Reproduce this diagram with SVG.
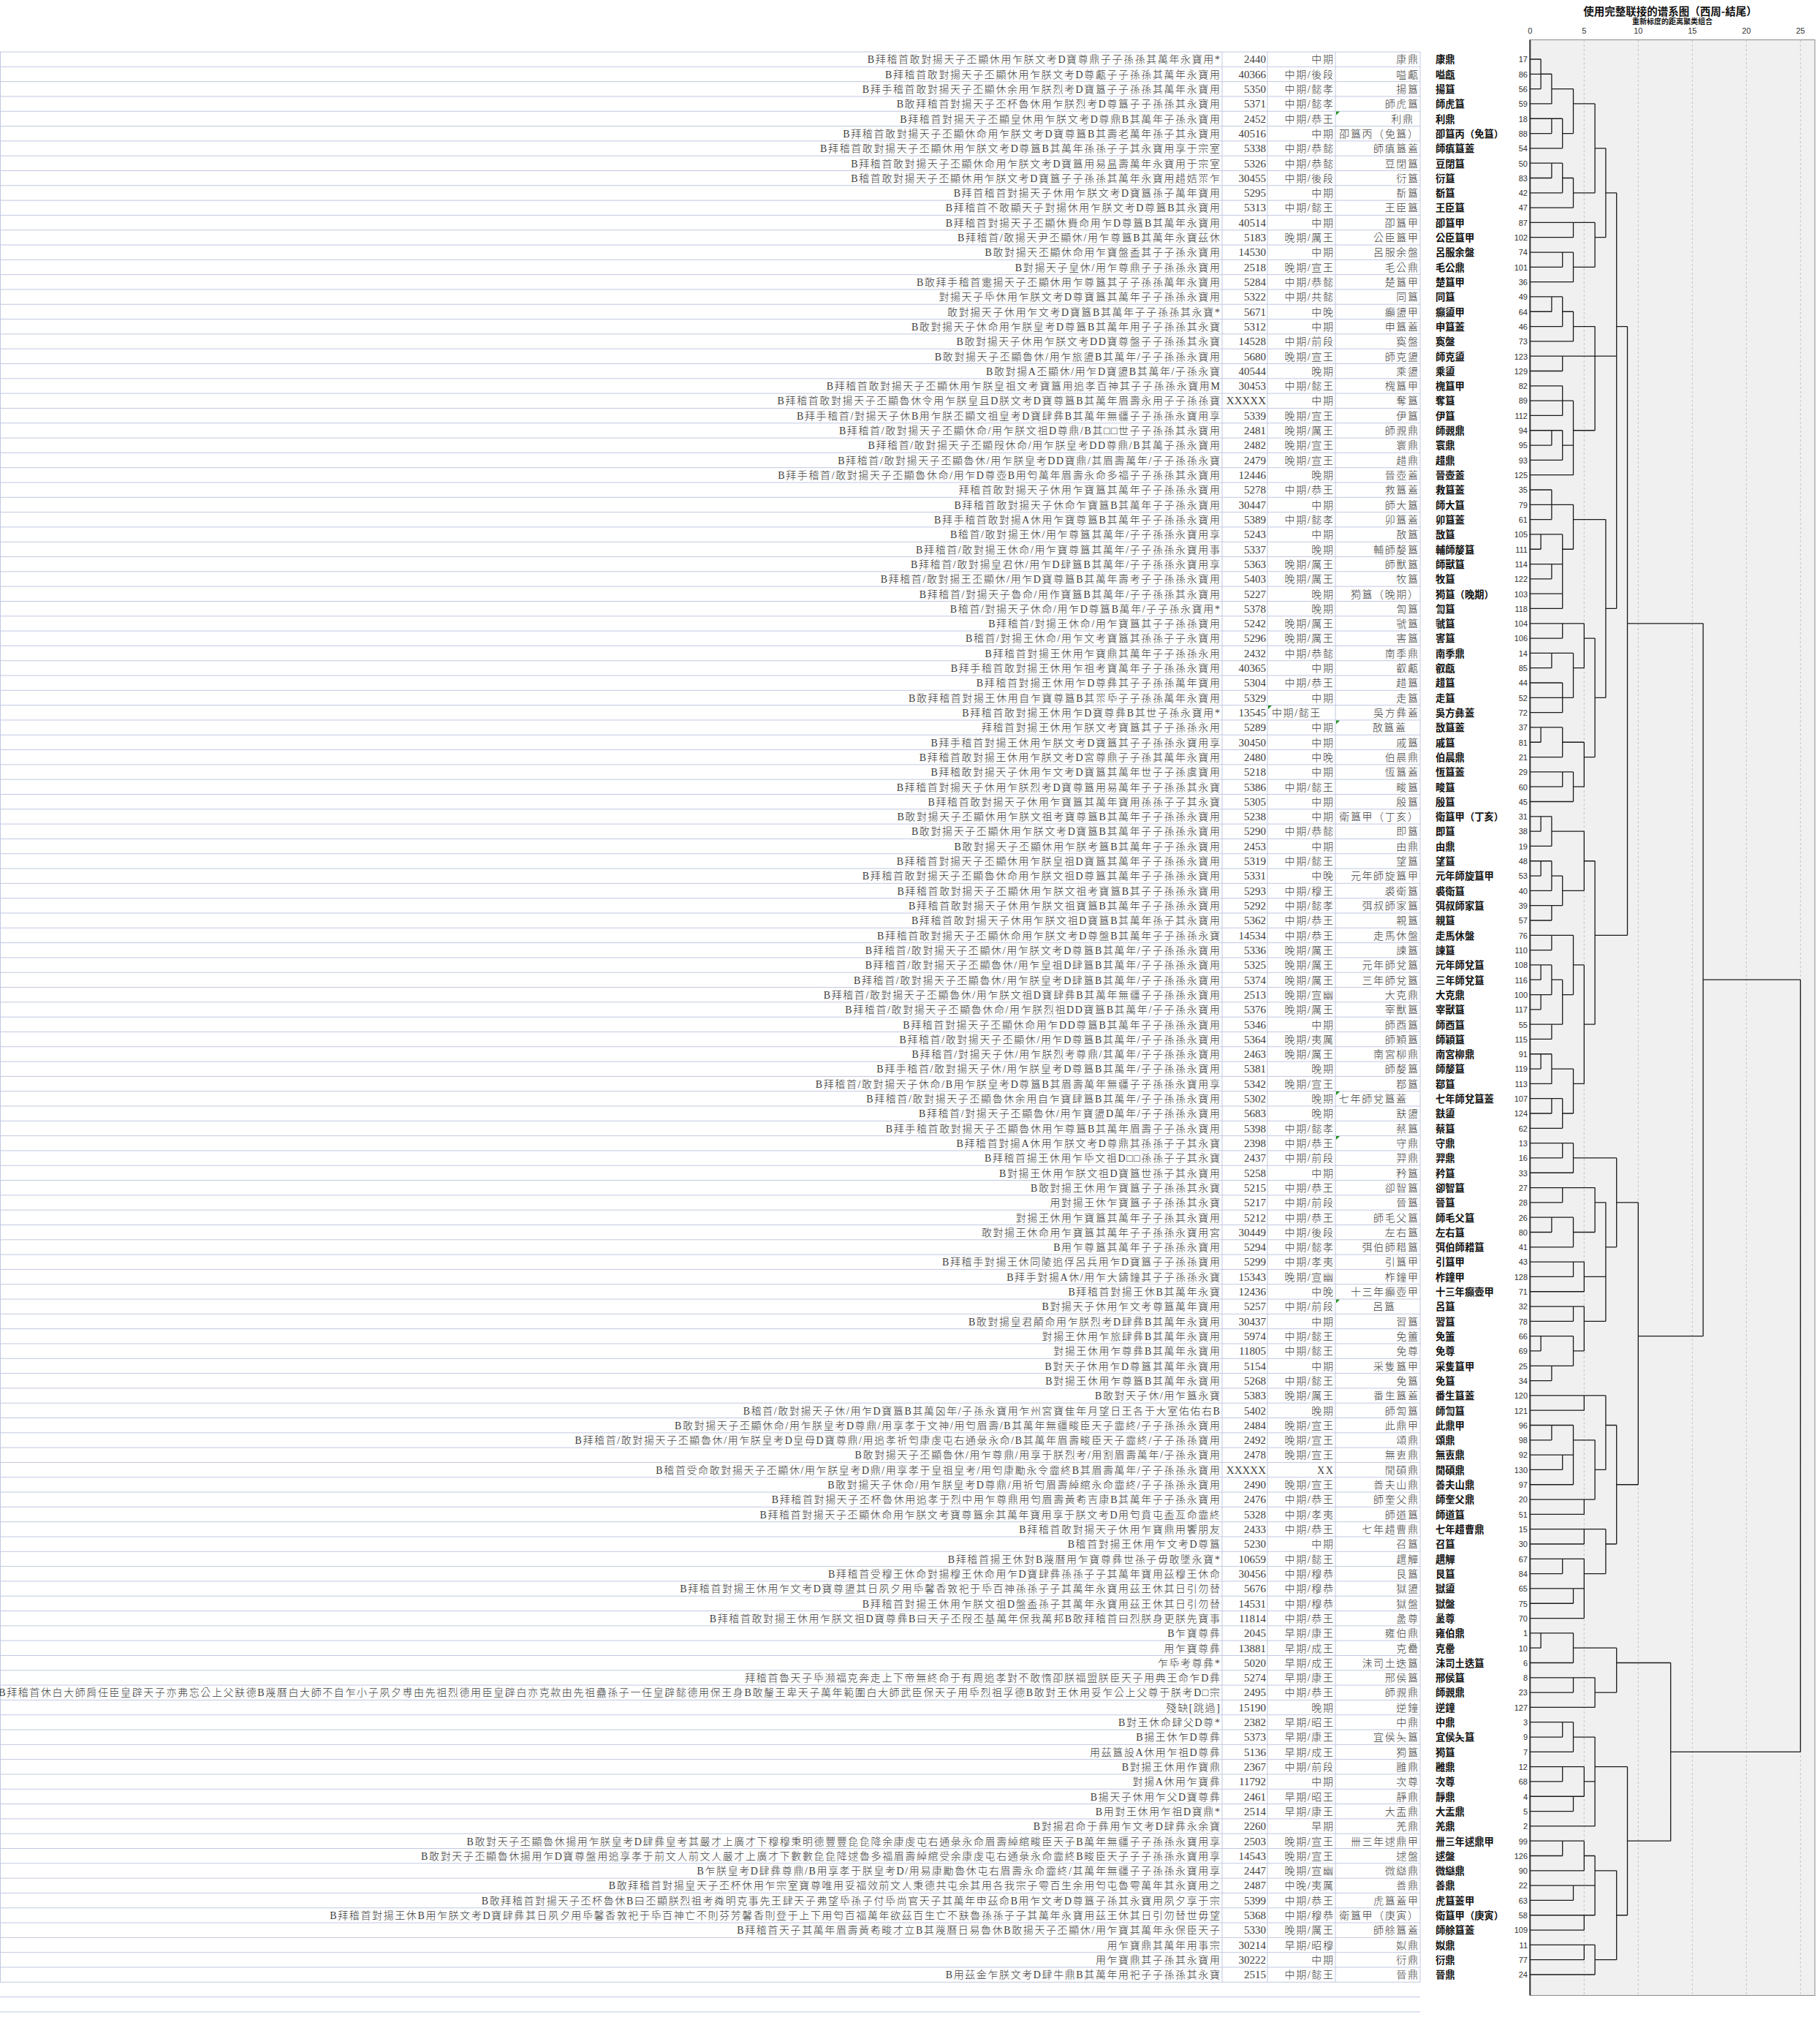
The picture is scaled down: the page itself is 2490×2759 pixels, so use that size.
<svg xmlns="http://www.w3.org/2000/svg" width="2490" height="2759" viewBox="0 0 2490 2759">
<style>
.t{font-family:"Liberation Serif","Noto Sans CJK TC",serif;font-size:14px;font-weight:300;letter-spacing:1.6px;fill:#404040;text-anchor:end}
.s{text-anchor:start}
.n{font-family:"Liberation Serif",serif;font-size:15px;fill:#404040;text-anchor:end}
.lb{font-family:"Noto Sans CJK TC",sans-serif;font-size:13.3px;font-weight:700;fill:#111}
.ln{font-family:"Liberation Sans",sans-serif;font-size:11px;fill:#333;text-anchor:end}
.ax{font-family:"Liberation Sans",sans-serif;font-size:11px;fill:#333;text-anchor:middle}
.ti{font-family:"Noto Sans CJK SC",sans-serif;font-weight:700;fill:#111;text-anchor:middle}
.gr{stroke:#c2c8e2;stroke-width:1;fill:none}
.dg{fill:none;stroke:#1a1a1a;stroke-width:1.3;vector-effect:non-scaling-stroke}
.tri{fill:#1f8f1f}
</style>
<rect width="2490" height="2759" fill="#fff"/>
<g id="table-grid">
<path class="gr" d="M0 71h1943m-1943 20.31h1943m-1943 20.31h1943m-1943 20.31h1943m-1943 20.31h1943m-1943 20.31h1943m-1943 20.31h1943m-1943 20.31h1943m-1943 20.31h1943m-1943 20.31h1943m-1943 20.31h1943m-1943 20.31h1943m-1943 20.31h1943m-1943 20.31h1943m-1943 20.31h1943m-1943 20.31h1943m-1943 20.31h1943m-1943 20.31h1943m-1943 20.31h1943m-1943 20.31h1943m-1943 20.31h1943m-1943 20.31h1943m-1943 20.31h1943m-1943 20.31h1943m-1943 20.31h1943m-1943 20.31h1943m-1943 20.31h1943m-1943 20.31h1943m-1943 20.31h1943m-1943 20.31h1943m-1943 20.31h1943m-1943 20.31h1943m-1943 20.31h1943m-1943 20.31h1943m-1943 20.31h1943m-1943 20.31h1943m-1943 20.31h1943m-1943 20.31h1943m-1943 20.31h1943m-1943 20.31h1943m-1943 20.31h1943m-1943 20.31h1943m-1943 20.31h1943m-1943 20.31h1943m-1943 20.31h1943m-1943 20.31h1943m-1943 20.31h1943m-1943 20.31h1943m-1943 20.31h1943m-1943 20.31h1943m-1943 20.31h1943m-1943 20.31h1943m-1943 20.31h1943m-1943 20.31h1943m-1943 20.31h1943m-1943 20.31h1943m-1943 20.31h1943m-1943 20.31h1943m-1943 20.31h1943m-1943 20.31h1943m-1943 20.31h1943m-1943 20.31h1943m-1943 20.31h1943m-1943 20.31h1943m-1943 20.31h1943m-1943 20.31h1943m-1943 20.31h1943m-1943 20.31h1943m-1943 20.31h1943m-1943 20.31h1943m-1943 20.31h1943m-1943 20.31h1943m-1943 20.31h1943m-1943 20.31h1943m-1943 20.31h1943m-1943 20.31h1943m-1943 20.31h1943m-1943 20.31h1943m-1943 20.31h1943m-1943 20.31h1943m-1943 20.31h1943m-1943 20.31h1943m-1943 20.31h1943m-1943 20.31h1943m-1943 20.31h1943m-1943 20.31h1943m-1943 20.31h1943m-1943 20.31h1943m-1943 20.31h1943m-1943 20.31h1943m-1943 20.31h1943m-1943 20.31h1943m-1943 20.31h1943m-1943 20.31h1943m-1943 20.31h1943m-1943 20.31h1943m-1943 20.31h1943m-1943 20.31h1943m-1943 20.31h1943m-1943 20.31h1943m-1943 20.31h1943m-1943 20.31h1943m-1943 20.31h1943m-1943 20.31h1943m-1943 20.31h1943m-1943 20.31h1943m-1943 20.31h1943m-1943 20.31h1943m-1943 20.31h1943m-1943 20.31h1943m-1943 20.31h1943m-1943 20.31h1943m-1943 20.31h1943m-1943 20.31h1943m-1943 20.31h1943m-1943 20.31h1943m-1943 20.31h1943m-1943 20.31h1943m-1943 20.31h1943m-1943 20.31h1943m-1943 20.31h1943m-1943 20.31h1943m-1943 20.31h1943m-1943 20.31h1943m-1943 20.31h1943m-1943 20.31h1943m-1943 20.31h1943m-1943 20.31h1943m-1943 20.31h1943m-1943 20.31h1943m-1943 20.31h1943m-1943 20.31h1943m-1943 20.31h1943m-1943 20.31h1943m-1943 20.31h1943m-1943 20.31h1943m-1943 20.31h1943m-1943 20.31h1943m-1943 20.31h1943m-1943 20.31h1943m-1943 20.31h1943m-1943 20.31h1943m-1943 20.31h1943"/>
<path class="gr" d="M0.5 71V2711M1672 71V2711M1734 71V2711M1827 71V2711M1943 71V2711"/>
<path class="tri" d="M1828 152.5h5l-5 5zM1735 965h5l-5 5zM1828 985.5h5l-5 5zM1828 1493h5l-5 5zM1828 1554h5l-5 5zM1828 1777.5h5l-5 5z"/>
</g>
<g id="dendrogram-frame">
<rect x="2093.3" y="54.5" width="389.7" height="2675" fill="#f0f0f0" stroke="#8a8a8a" stroke-width="1"/>
<path d="M2167.3 55V2729M2241.3 55V2729M2315.3 55V2729M2389.3 55V2729M2463.3 55V2729" stroke="#c4c4c4" stroke-width="1" stroke-dasharray="3 3" fill="none"/>
<line x1="2093.3" y1="54.5" x2="2093.3" y2="2729.5" stroke="#333" stroke-width="2"/>
<text class="ti" x="2285" y="21" font-size="14.5">使用完整联接的谱系图（西周-結尾）</text>
<text class="ti" x="2288" y="33" font-size="10">重新标度的距离聚类组合</text>
<text class="ax" x="2093.3" y="46">0</text>
<text class="ax" x="2167.3" y="46">5</text>
<text class="ax" x="2241.3" y="46">10</text>
<text class="ax" x="2315.3" y="46">15</text>
<text class="ax" x="2389.3" y="46">20</text>
<text class="ax" x="2463.3" y="46">25</text>
</g>
<g id="connectors" transform="translate(2093.3 60.69) scale(14.8 20.31)">
<path class="dg" d="M0 1H1M0 2H2M0 3H1M0 4H2M0 5H2M0 6H2M0 7H3M0 8H2M0 9H2M0 10H3M0 11H4M0 12H4M0 13H4M0 14H3M0 15H3M0 16H4M0 17H2M0 18H2M0 19H3M0 20H4M0 21H3M0 22H3M0 23H3M0 24H3M0 25H3M0 26H2M0 27H2M0 28H3M0 29H4M0 30H2M0 31H2M0 32H2M0 33H1M0 34H1M0 35H2M0 36H2M0 37H3M0 38H3M0 39H3M0 40H3M0 41H2M0 42H2M0 43H3M0 44H3M0 45H3M0 46H1M0 47H1M0 48H3M0 49H3M0 50H3M0 51H4M0 52H1M0 53H1M0 54H2M0 55H1M0 56H1M0 57H2M0 58H2M0 59H2M0 60H2M0 61H2M0 62H1M0 63H1M0 64H1M0 65H1M0 66H2M0 67H2M0 68H1M0 69H1M0 70H2M0 71H2M0 72H2M0 73H3M0 74H3M0 75H3M0 76H4M0 77H3M0 78H3M0 79H2M0 80H2M0 81H4M0 82H4M0 83H4M0 84H5M0 85H4M0 86H4M0 87H1M0 88H1M0 89H2M0 90H2M0 91H5M0 92H5M0 93H2M0 94H2M0 95H3M0 96H3M0 97H4M0 98H5M0 99H5M0 100H5M0 101H5M0 102H3M0 103H3M0 104H4M0 105H4M0 106H5M0 107H1M0 108H1M0 109H4M0 110H4M0 111H4M0 112H6M0 113H3M0 114H3M0 115H4M0 116H3M0 117H3M0 118H4M0 119H4M0 120H6M0 121H3M0 122H3M0 123H5M0 124H4M0 125H4M0 126H5M0 127H5M0 128H5M0 129H5M0 130H6"/>
<path class="dg" d="M1 2H2M2 3H4M2 5H3M3 6H4M4 4H6M2 8H3M3 9H4M4 10H6M7 10H8M6 7H7M4 12H6M3 14H4M4 15H6M6 13H7M2 17H3M3 18H4M4 19H6M8 19H9M3 21H8M3 24H4M2 26H3M4 26H6M3 27H4M2 31H4M1 33H3M2 35H3M3 34H4M4 32H7M3 39H5M9 39H16M2 41H4M3 44H4M6 44H7M4 42H5M5 40H6M1 46H3M3 47H5M3 49H4M4 50H5M5 48H6M7 38H8M1 52H2M2 53H5M1 55H2M5 55H6M2 56H3M2 58H3M3 57H5M2 60H4M6 60H9M1 62H2M4 62H5M1 64H2M3 64H4M2 63H3M16 63H25M2 66H3M5 66H6M1 68H2M2 69H4M2 71H3M3 72H4M4 70H5M3 74H4M4 75H8M3 77H6M2 79H4M4 80H6M6 78H7M8 78H10M4 82H5M5 83H7M4 85H5M1 87H4M10 87H16M2 89H4M4 88H5M5 86H7M7 81H8M5 91H7M2 93H4M7 93H8M3 95H4M4 94H6M5 98H6M6 96H7M5 100H7M3 102H5M4 104H5M5 103H7M7 101H8M8 97H10M1 107H4M4 108H8M4 110H6M6 111H8M8 109H13M3 113H4M4 114H6M3 116H5M6 116H9M4 118H5M5 117H6M3 121H5M9 121H13M5 122H6M4 124H6M5 126H6M8 126H9M6 123H8M5 128H6M6 129H8M13 115H25"/>
<path class="dg" d="M1 1V3M1 33V34M1 46V47M1 52V53M1 55V56M1 62V63M1 64V65M1 68V69M1 87V88M1 107V108M2 2V4M2 5V6M2 8V9M2 17V18M2 26V27M2 30V32M2 35V36M2 41V42M2 52V54M2 55V57M2 58V59M2 60V61M2 62V64M2 66V67M2 68V70M2 71V72M2 79V80M2 89V90M2 93V94M3 5V7M3 8V10M3 14V15M3 17V19M3 21V22M3 23V25M3 26V28M3 33V38M3 39V40M3 43V45M3 46V48M3 49V50M3 56V58M3 63V66M3 71V73M3 74V75M3 77V78M3 95V96M3 102V103M3 113V114M3 116V117M3 121V122M4 3V6M4 9V11M4 12V13M4 14V16M4 18V20M4 24V29M4 31V34M4 41V44M4 49V51M4 60V64M4 69V72M4 74V76M4 79V81M4 82V83M4 85V86M4 87V89M4 93V97M4 104V105M4 107V109M4 110V111M4 113V115M4 118V119M4 124V125M5 39V42M5 47V50M5 53V57M5 62V70M5 82V84M5 85V88M5 91V92M5 98V99M5 100V101M5 102V106M5 116V118M5 121V123M5 126V127M5 128V129M6 4V10M6 12V15M6 19V26M6 40V48M6 55V66M6 77V80M6 94V98M6 110V112M6 114V120M6 122V126M6 128V130M7 7V13M7 32V44M7 78V86M7 91V96M7 100V103M8 10V38M8 75V81M8 93V101M8 108V111M8 123V129M9 19V60M9 116V126M10 78V97M13 109V121M16 39V87M25 63V115"/>
</g>
<g id="rows">
<g id="r1" transform="translate(0 86.3)"><text class="t" x="1670.5">B拜稽首敢對揚天子丕顯休用乍朕文考D寶尊鼎子子孫孫其萬年永寶用*</text><text class="n" x="1732">2440</text><text class="t" x="1825.5">中期</text><text class="t" x="1941.5">康鼎</text><text class="lb" x="1964">康鼎</text><text class="ln" x="2090" y="-1">17</text></g>
<g id="r2" transform="translate(0 106.6)"><text class="t" x="1670.5">B拜稽首敢對揚天子丕顯休用乍朕文考D尊甗子子孫孫其萬年永寶用</text><text class="n" x="1732">40366</text><text class="t" x="1825.5">中期/後段</text><text class="t" x="1941.5">嗌甗</text><text class="lb" x="1964">嗌甗</text><text class="ln" x="2090" y="-1">86</text></g>
<g id="r3" transform="translate(0 126.9)"><text class="t" x="1670.5">B拜手稽首敢對揚天子丕顯休余用乍朕烈考D寶簋子子孫孫其萬年永寶用</text><text class="n" x="1732">5350</text><text class="t" x="1825.5">中期/懿孝</text><text class="t" x="1941.5">揚簋</text><text class="lb" x="1964">揚簋</text><text class="ln" x="2090" y="-1">56</text></g>
<g id="r4" transform="translate(0 147.2)"><text class="t" x="1670.5">B敢拜稽首對揚天子丕杯魯休用乍朕烈考D尊簋子子孫孫其永寶用</text><text class="n" x="1732">5371</text><text class="t" x="1825.5">中期/懿孝</text><text class="t" x="1941.5">師虎簋</text><text class="lb" x="1964">師虎簋</text><text class="ln" x="2090" y="-1">59</text></g>
<g id="r5" transform="translate(0 167.5)"><text class="t" x="1670.5">B拜稽首對揚天子丕顯皇休用乍朕文考D尊鼎B其萬年子孫永寶用</text><text class="n" x="1732">2452</text><text class="t" x="1825.5">中期/恭王</text><text class="t" x="1934.5">利鼎</text><text class="lb" x="1964">利鼎</text><text class="ln" x="2090" y="-1">18</text></g>
<g id="r6" transform="translate(0 187.9)"><text class="t" x="1670.5">B拜稽首敢對揚天子丕顯休命用乍朕文考D寶尊簋B其壽老萬年孫子其永寶用</text><text class="n" x="1732">40516</text><text class="t" x="1825.5">中期</text><text class="t" x="1941.5">卲簋丙（免簋）</text><text class="lb" x="1964">卲簋丙（免簋）</text><text class="ln" x="2090" y="-1">88</text></g>
<g id="r7" transform="translate(0 208.2)"><text class="t" x="1670.5">B拜稽首敢對揚天子丕顯休用乍朕文考D尊簋B其萬年孫孫子子其永寶用享于宗室</text><text class="n" x="1732">5338</text><text class="t" x="1825.5">中期/恭懿</text><text class="t" x="1941.5">師瘨簋蓋</text><text class="lb" x="1964">師瘨簋蓋</text><text class="ln" x="2090" y="-1">54</text></g>
<g id="r8" transform="translate(0 228.5)"><text class="t" x="1670.5">B拜稽首敢對揚天子丕顯休命用乍朕文考D寶簋用易昷壽萬年永寶用于宗室</text><text class="n" x="1732">5326</text><text class="t" x="1825.5">中期/恭懿</text><text class="t" x="1941.5">豆閉簋</text><text class="lb" x="1964">豆閉簋</text><text class="ln" x="2090" y="-1">50</text></g>
<g id="r9" transform="translate(0 248.8)"><text class="t" x="1670.5">B稽首敢對揚天子丕顯休用乍朕文考D寶簋子子孫孫其萬年永寶用趞姞眔乍</text><text class="n" x="1732">30455</text><text class="t" x="1825.5">中期/後段</text><text class="t" x="1941.5">衍簋</text><text class="lb" x="1964">衍簋</text><text class="ln" x="2090" y="-1">83</text></g>
<g id="r10" transform="translate(0 269.1)"><text class="t" x="1670.5">B拜首稽首對揚天子休用乍朕文考D寶簋孫子萬年寶用</text><text class="n" x="1732">5295</text><text class="t" x="1825.5">中期</text><text class="t" x="1941.5">斱簋</text><text class="lb" x="1964">斱簋</text><text class="ln" x="2090" y="-1">42</text></g>
<g id="r11" transform="translate(0 289.4)"><text class="t" x="1670.5">B拜稽首不敢顯天子對揚休用乍朕文考D尊簋B其永寶用</text><text class="n" x="1732">5313</text><text class="t" x="1825.5">中期/懿王</text><text class="t" x="1941.5">王臣簋</text><text class="lb" x="1964">王臣簋</text><text class="ln" x="2090" y="-1">47</text></g>
<g id="r12" transform="translate(0 309.7)"><text class="t" x="1670.5">B拜稽首對揚天子丕顯休賚命用乍D尊簋B其萬年永寶用</text><text class="n" x="1732">40514</text><text class="t" x="1825.5">中期</text><text class="t" x="1941.5">卲簋甲</text><text class="lb" x="1964">卲簋甲</text><text class="ln" x="2090" y="-1">87</text></g>
<g id="r13" transform="translate(0 330.0)"><text class="t" x="1670.5">B拜稽首/敢揚天尹丕顯休/用乍尊簋B其萬年永寶茲休</text><text class="n" x="1732">5183</text><text class="t" x="1825.5">晚期/厲王</text><text class="t" x="1941.5">公臣簋甲</text><text class="lb" x="1964">公臣簋甲</text><text class="ln" x="2090" y="-1">102</text></g>
<g id="r14" transform="translate(0 350.3)"><text class="t" x="1670.5">B敢對揚天丕顯休命用乍寶盤盉其子子孫永寶用</text><text class="n" x="1732">14530</text><text class="t" x="1825.5">中期</text><text class="t" x="1941.5">呂服余盤</text><text class="lb" x="1964">呂服余盤</text><text class="ln" x="2090" y="-1">74</text></g>
<g id="r15" transform="translate(0 370.6)"><text class="t" x="1670.5">B對揚天子皇休/用乍尊鼎子子孫孫永寶用</text><text class="n" x="1732">2518</text><text class="t" x="1825.5">晚期/宣王</text><text class="t" x="1941.5">毛公鼎</text><text class="lb" x="1964">毛公鼎</text><text class="ln" x="2090" y="-1">101</text></g>
<g id="r16" transform="translate(0 391.0)"><text class="t" x="1670.5">B敢拜手稽首疐揚天子丕顯休用乍尊簋其子子孫孫萬年永寶用</text><text class="n" x="1732">5284</text><text class="t" x="1825.5">中期/恭懿</text><text class="t" x="1941.5">楚簋甲</text><text class="lb" x="1964">楚簋甲</text><text class="ln" x="2090" y="-1">36</text></g>
<g id="r17" transform="translate(0 411.3)"><text class="t" x="1670.5">對揚天子氒休用乍朕文考D尊寶簋其萬年子子孫孫永寶用</text><text class="n" x="1732">5322</text><text class="t" x="1825.5">中期/共懿</text><text class="t" x="1941.5">同簋</text><text class="lb" x="1964">同簋</text><text class="ln" x="2090" y="-1">49</text></g>
<g id="r18" transform="translate(0 431.6)"><text class="t" x="1670.5">敢對揚天子休用乍文考D寶簋B其萬年子子孫孫其永寶*</text><text class="n" x="1732">5671</text><text class="t" x="1825.5">中晚</text><text class="t" x="1941.5">癲盨甲</text><text class="lb" x="1964">癲盨甲</text><text class="ln" x="2090" y="-1">64</text></g>
<g id="r19" transform="translate(0 451.9)"><text class="t" x="1670.5">B敢對揚天子休命用乍朕皇考D尊簋B其萬年用子子孫孫其永寶</text><text class="n" x="1732">5312</text><text class="t" x="1825.5">中期</text><text class="t" x="1941.5">申簋蓋</text><text class="lb" x="1964">申簋蓋</text><text class="ln" x="2090" y="-1">46</text></g>
<g id="r20" transform="translate(0 472.2)"><text class="t" x="1670.5">B敢對揚天子休用乍朕文考DD寶尊盤子子孫孫其永寶</text><text class="n" x="1732">14528</text><text class="t" x="1825.5">中期/前段</text><text class="t" x="1941.5">寏盤</text><text class="lb" x="1964">寏盤</text><text class="ln" x="2090" y="-1">73</text></g>
<g id="r21" transform="translate(0 492.5)"><text class="t" x="1670.5">B敢對揚天子丕顯魯休/用乍旅盨B其萬年/子子孫孫永寶用</text><text class="n" x="1732">5680</text><text class="t" x="1825.5">晚期/宣王</text><text class="t" x="1941.5">師克盨</text><text class="lb" x="1964">師克盨</text><text class="ln" x="2090" y="-1">123</text></g>
<g id="r22" transform="translate(0 512.8)"><text class="t" x="1670.5">B敢對揚A丕顯休/用乍D寶盨B其萬年/子孫永寶</text><text class="n" x="1732">40544</text><text class="t" x="1825.5">晚期</text><text class="t" x="1941.5">乘盨</text><text class="lb" x="1964">乘盨</text><text class="ln" x="2090" y="-1">129</text></g>
<g id="r23" transform="translate(0 533.1)"><text class="t" x="1670.5">B拜稽首敢對揚天子丕顯休用乍朕皇祖文考寶簋用追孝百神其子子孫孫永寶用M</text><text class="n" x="1732">30453</text><text class="t" x="1825.5">中期/懿王</text><text class="t" x="1941.5">槐簋甲</text><text class="lb" x="1964">槐簋甲</text><text class="ln" x="2090" y="-1">82</text></g>
<g id="r24" transform="translate(0 553.4)"><text class="t" x="1670.5">B拜稽首敢對揚天子丕顯魯休令用乍朕皇且D朕文考D寶尊簋B其萬年眉壽永用子子孫孫寶</text><text class="n" x="1732">XXXXX</text><text class="t" x="1825.5">中期</text><text class="t" x="1941.5">奪簋</text><text class="lb" x="1964">奪簋</text><text class="ln" x="2090" y="-1">89</text></g>
<g id="r25" transform="translate(0 573.7)"><text class="t" x="1670.5">B拜手稽首/對揚天子休B用乍朕丕顯文祖皇考D寶肆彝B其萬年無疆子子孫孫永寶用享</text><text class="n" x="1732">5339</text><text class="t" x="1825.5">晚期/宣王</text><text class="t" x="1941.5">伊簋</text><text class="lb" x="1964">伊簋</text><text class="ln" x="2090" y="-1">112</text></g>
<g id="r26" transform="translate(0 594.1)"><text class="t" x="1670.5">B拜稽首/敢對揚天子丕顯休命/用乍朕文祖D尊鼎/B其□□世子子孫孫其永寶用</text><text class="n" x="1732">2481</text><text class="t" x="1825.5">晚期/厲王</text><text class="t" x="1941.5">師䚄鼎</text><text class="lb" x="1964">師䚄鼎</text><text class="ln" x="2090" y="-1">94</text></g>
<g id="r27" transform="translate(0 614.4)"><text class="t" x="1670.5">B拜稽首/敢對揚天子丕顯叚休命/用乍朕皇考DD尊鼎/B其萬子孫永寶用</text><text class="n" x="1732">2482</text><text class="t" x="1825.5">晚期/宣王</text><text class="t" x="1941.5">寰鼎</text><text class="lb" x="1964">寰鼎</text><text class="ln" x="2090" y="-1">95</text></g>
<g id="r28" transform="translate(0 634.7)"><text class="t" x="1670.5">B拜稽首/敢對揚天子丕顯魯休/用乍朕皇考DD寶鼎/其眉壽萬年/子子孫孫永寶</text><text class="n" x="1732">2479</text><text class="t" x="1825.5">晚期/宣王</text><text class="t" x="1941.5">趞鼎</text><text class="lb" x="1964">趞鼎</text><text class="ln" x="2090" y="-1">93</text></g>
<g id="r29" transform="translate(0 655.0)"><text class="t" x="1670.5">B拜手稽首/敢對揚天子丕顯魯休命/用乍D尊壺B用匄萬年眉壽永命多福子子孫孫其永寶用</text><text class="n" x="1732">12446</text><text class="t" x="1825.5">晚期</text><text class="t" x="1941.5">晉壺蓋</text><text class="lb" x="1964">晉壺蓋</text><text class="ln" x="2090" y="-1">125</text></g>
<g id="r30" transform="translate(0 675.3)"><text class="t" x="1670.5">拜稽首敢對揚天子休用乍寶簋其萬年子子孫孫永寶用</text><text class="n" x="1732">5278</text><text class="t" x="1825.5">中期/恭王</text><text class="t" x="1941.5">救簋蓋</text><text class="lb" x="1964">救簋蓋</text><text class="ln" x="2090" y="-1">35</text></g>
<g id="r31" transform="translate(0 695.6)"><text class="t" x="1670.5">B拜稽首敢對揚天子休命乍寶簋B其萬年子子孫永寶用</text><text class="n" x="1732">30447</text><text class="t" x="1825.5">中期</text><text class="t" x="1941.5">師大簋</text><text class="lb" x="1964">師大簋</text><text class="ln" x="2090" y="-1">79</text></g>
<g id="r32" transform="translate(0 715.9)"><text class="t" x="1670.5">B拜手稽首敢對揚A休用乍寶尊簋B其萬年子子孫孫永寶用</text><text class="n" x="1732">5389</text><text class="t" x="1825.5">中期/懿孝</text><text class="t" x="1941.5">卯簋蓋</text><text class="lb" x="1964">卯簋蓋</text><text class="ln" x="2090" y="-1">61</text></g>
<g id="r33" transform="translate(0 736.2)"><text class="t" x="1670.5">B稽首/敢對揚王休/用乍尊簋其萬年/子子孫孫永寶用享</text><text class="n" x="1732">5243</text><text class="t" x="1825.5">中期</text><text class="t" x="1941.5">敔簋</text><text class="lb" x="1964">敔簋</text><text class="ln" x="2090" y="-1">105</text></g>
<g id="r34" transform="translate(0 756.5)"><text class="t" x="1670.5">B拜稽首/敢對揚王休命/用乍寶尊簋其萬年/子子孫孫永寶用事</text><text class="n" x="1732">5337</text><text class="t" x="1825.5">晚期</text><text class="t" x="1941.5">輔師嫠簋</text><text class="lb" x="1964">輔師嫠簋</text><text class="ln" x="2090" y="-1">111</text></g>
<g id="r35" transform="translate(0 776.8)"><text class="t" x="1670.5">B拜稽首/敢對揚皇君休/用乍D肆簋B其萬年/子子孫孫永寶用享</text><text class="n" x="1732">5363</text><text class="t" x="1825.5">晚期/厲王</text><text class="t" x="1941.5">師獸簋</text><text class="lb" x="1964">師獸簋</text><text class="ln" x="2090" y="-1">114</text></g>
<g id="r36" transform="translate(0 797.2)"><text class="t" x="1670.5">B拜稽首/敢對揚王丕顯休/用乍D寶尊簋B其萬年壽考子子孫孫永寶用</text><text class="n" x="1732">5403</text><text class="t" x="1825.5">晚期/厲王</text><text class="t" x="1941.5">牧簋</text><text class="lb" x="1964">牧簋</text><text class="ln" x="2090" y="-1">122</text></g>
<g id="r37" transform="translate(0 817.5)"><text class="t" x="1670.5">B拜稽首/對揚天子魯命/用作寶簋B其萬年/子子孫孫其永寶用</text><text class="n" x="1732">5227</text><text class="t" x="1825.5">晚期</text><text class="t" x="1941.5">㺃簋（晚期）</text><text class="lb" x="1964">㺃簋（晚期）</text><text class="ln" x="2090" y="-1">103</text></g>
<g id="r38" transform="translate(0 837.8)"><text class="t" x="1670.5">B稽首/對揚天子休命/用乍D尊簋B萬年/子子孫永寶用*</text><text class="n" x="1732">5378</text><text class="t" x="1825.5">晚期</text><text class="t" x="1941.5">訇簋</text><text class="lb" x="1964">訇簋</text><text class="ln" x="2090" y="-1">118</text></g>
<g id="r39" transform="translate(0 858.1)"><text class="t" x="1670.5">B拜稽首/對揚王休命/用乍寶簋其子子孫孫寶用</text><text class="n" x="1732">5242</text><text class="t" x="1825.5">晚期/厲王</text><text class="t" x="1941.5">虢簋</text><text class="lb" x="1964">虢簋</text><text class="ln" x="2090" y="-1">104</text></g>
<g id="r40" transform="translate(0 878.4)"><text class="t" x="1670.5">B稽首/對揚王休命/用乍文考寶簋其孫孫子子永寶用</text><text class="n" x="1732">5296</text><text class="t" x="1825.5">晚期/厲王</text><text class="t" x="1941.5">害簋</text><text class="lb" x="1964">害簋</text><text class="ln" x="2090" y="-1">106</text></g>
<g id="r41" transform="translate(0 898.7)"><text class="t" x="1670.5">B拜稽首對揚王休用乍寶鼎其萬年子子孫孫永用</text><text class="n" x="1732">2432</text><text class="t" x="1825.5">中期/恭懿</text><text class="t" x="1941.5">南季鼎</text><text class="lb" x="1964">南季鼎</text><text class="ln" x="2090" y="-1">14</text></g>
<g id="r42" transform="translate(0 919.0)"><text class="t" x="1670.5">B拜手稽首敢對揚王休用乍祖考寶萬年子子孫孫永寶用</text><text class="n" x="1732">40365</text><text class="t" x="1825.5">中期</text><text class="t" x="1941.5">叡甗</text><text class="lb" x="1964">叡甗</text><text class="ln" x="2090" y="-1">85</text></g>
<g id="r43" transform="translate(0 939.3)"><text class="t" x="1670.5">B拜稽首對揚王休用乍D尊彝其子子孫孫萬年寶用</text><text class="n" x="1732">5304</text><text class="t" x="1825.5">中期/恭王</text><text class="t" x="1941.5">趞簋</text><text class="lb" x="1964">趞簋</text><text class="ln" x="2090" y="-1">44</text></g>
<g id="r44" transform="translate(0 959.6)"><text class="t" x="1670.5">B敢拜稽首對揚王休用自乍寶尊簋B其眔氒子子孫孫萬年永寶用</text><text class="n" x="1732">5329</text><text class="t" x="1825.5">中期</text><text class="t" x="1941.5">走簋</text><text class="lb" x="1964">走簋</text><text class="ln" x="2090" y="-1">52</text></g>
<g id="r45" transform="translate(0 979.9)"><text class="t" x="1670.5">B拜稽首敢對揚王休用乍D寶尊彝B其世子孫永寶用*</text><text class="n" x="1732">13545</text><text class="t s" x="1740">中期/懿王</text><text class="t" x="1941.5">吳方彝蓋</text><text class="lb" x="1964">吳方彝蓋</text><text class="ln" x="2090" y="-1">72</text></g>
<g id="r46" transform="translate(0 1000.3)"><text class="t" x="1670.5">拜稽首對揚王休用乍朕文考寶簋其子子孫孫永用</text><text class="n" x="1732">5289</text><text class="t" x="1825.5">中期</text><text class="t" x="1924.5">敔簋蓋</text><text class="lb" x="1964">敔簋蓋</text><text class="ln" x="2090" y="-1">37</text></g>
<g id="r47" transform="translate(0 1020.6)"><text class="t" x="1670.5">B拜手稽首對揚王休用乍朕文考D寶簋其子子孫孫永寶用享</text><text class="n" x="1732">30450</text><text class="t" x="1825.5">中期</text><text class="t" x="1941.5">戚簋</text><text class="lb" x="1964">戚簋</text><text class="ln" x="2090" y="-1">81</text></g>
<g id="r48" transform="translate(0 1040.9)"><text class="t" x="1670.5">B拜稽首敢對揚王休用乍朕文考D宮尊鼎子子孫其萬年永寶用</text><text class="n" x="1732">2480</text><text class="t" x="1825.5">中晚</text><text class="t" x="1941.5">伯晨鼎</text><text class="lb" x="1964">伯晨鼎</text><text class="ln" x="2090" y="-1">21</text></g>
<g id="r49" transform="translate(0 1061.2)"><text class="t" x="1670.5">B拜稽敢對揚天子休用乍文考D寶簋其萬年世子子孫虞寶用</text><text class="n" x="1732">5218</text><text class="t" x="1825.5">中期</text><text class="t" x="1941.5">恆簋蓋</text><text class="lb" x="1964">恆簋蓋</text><text class="ln" x="2090" y="-1">29</text></g>
<g id="r50" transform="translate(0 1081.5)"><text class="t" x="1670.5">B拜稽首對揚天子休用乍朕烈考D寶尊簋用易萬年子子孫孫其永寶</text><text class="n" x="1732">5386</text><text class="t" x="1825.5">中期/懿王</text><text class="t" x="1941.5">畯簋</text><text class="lb" x="1964">畯簋</text><text class="ln" x="2090" y="-1">60</text></g>
<g id="r51" transform="translate(0 1101.8)"><text class="t" x="1670.5">B拜稽首敢對揚天子休用乍寶簋其萬年寶用孫孫子子其永寶</text><text class="n" x="1732">5305</text><text class="t" x="1825.5">中期</text><text class="t" x="1941.5">殷簋</text><text class="lb" x="1964">殷簋</text><text class="ln" x="2090" y="-1">45</text></g>
<g id="r52" transform="translate(0 1122.1)"><text class="t" x="1670.5">B敢對揚天子丕顯休用乍朕文祖考寶尊簋B其萬年子子孫孫永寶用</text><text class="n" x="1732">5238</text><text class="t" x="1825.5">中期</text><text class="t" x="1941.5">衛簋甲（丁亥）</text><text class="lb" x="1964">衛簋甲（丁亥）</text><text class="ln" x="2090" y="-1">31</text></g>
<g id="r53" transform="translate(0 1142.4)"><text class="t" x="1670.5">B敢對揚天子丕顯休用乍朕文考D寶簋B其萬年子子孫孫永寶用</text><text class="n" x="1732">5290</text><text class="t" x="1825.5">中期/恭懿</text><text class="t" x="1941.5">即簋</text><text class="lb" x="1964">即簋</text><text class="ln" x="2090" y="-1">38</text></g>
<g id="r54" transform="translate(0 1162.7)"><text class="t" x="1670.5">B敢對揚天子丕顯休用乍朕考簋B其萬年子子孫永寶用</text><text class="n" x="1732">2453</text><text class="t" x="1825.5">中期</text><text class="t" x="1941.5">由鼎</text><text class="lb" x="1964">由鼎</text><text class="ln" x="2090" y="-1">19</text></g>
<g id="r55" transform="translate(0 1183.0)"><text class="t" x="1670.5">B拜稽首對揚天子丕顯休用乍朕皇祖D寶簋其萬年子子孫孫永寶用</text><text class="n" x="1732">5319</text><text class="t" x="1825.5">中期/懿王</text><text class="t" x="1941.5">望簋</text><text class="lb" x="1964">望簋</text><text class="ln" x="2090" y="-1">48</text></g>
<g id="r56" transform="translate(0 1203.4)"><text class="t" x="1670.5">B拜稽首敢對揚天子丕顯魯休命用乍朕文祖D尊簋其萬年子子孫孫永寶用</text><text class="n" x="1732">5331</text><text class="t" x="1825.5">中晚</text><text class="t" x="1941.5">元年師旋簋甲</text><text class="lb" x="1964">元年師旋簋甲</text><text class="ln" x="2090" y="-1">53</text></g>
<g id="r57" transform="translate(0 1223.7)"><text class="t" x="1670.5">B拜稽首敢對揚天子丕顯休用乍朕文祖考寶簋B其子子孫孫永寶用</text><text class="n" x="1732">5293</text><text class="t" x="1825.5">中期/穆王</text><text class="t" x="1941.5">裘衛簋</text><text class="lb" x="1964">裘衛簋</text><text class="ln" x="2090" y="-1">40</text></g>
<g id="r58" transform="translate(0 1244.0)"><text class="t" x="1670.5">B拜稽首敢對揚天子休用乍朕文祖寶簋B其萬年子子孫孫永寶用</text><text class="n" x="1732">5292</text><text class="t" x="1825.5">中期/懿孝</text><text class="t" x="1941.5">弭叔師家簋</text><text class="lb" x="1964">弭叔師家簋</text><text class="ln" x="2090" y="-1">39</text></g>
<g id="r59" transform="translate(0 1264.3)"><text class="t" x="1670.5">B拜稽首敢對揚天子休用乍朕文祖D寶簋B其萬年孫子其永寶用</text><text class="n" x="1732">5362</text><text class="t" x="1825.5">中期/恭王</text><text class="t" x="1941.5">親簋</text><text class="lb" x="1964">親簋</text><text class="ln" x="2090" y="-1">57</text></g>
<g id="r60" transform="translate(0 1284.6)"><text class="t" x="1670.5">B拜稽首敢對揚天子丕顯休命用乍朕文考D尊盤B其萬年子子孫孫永寶</text><text class="n" x="1732">14534</text><text class="t" x="1825.5">中期/恭王</text><text class="t" x="1941.5">走馬休盤</text><text class="lb" x="1964">走馬休盤</text><text class="ln" x="2090" y="-1">76</text></g>
<g id="r61" transform="translate(0 1304.9)"><text class="t" x="1670.5">B拜稽首/敢對揚天子丕顯休/用乍朕文考D尊簋B其萬年/子子孫孫永寶用</text><text class="n" x="1732">5336</text><text class="t" x="1825.5">晚期/厲王</text><text class="t" x="1941.5">諫簋</text><text class="lb" x="1964">諫簋</text><text class="ln" x="2090" y="-1">110</text></g>
<g id="r62" transform="translate(0 1325.2)"><text class="t" x="1670.5">B拜稽首/敢對揚天子丕顯魯休/用乍皇祖D肆簋B其萬年/子子孫孫永寶用</text><text class="n" x="1732">5325</text><text class="t" x="1825.5">晚期/厲王</text><text class="t" x="1941.5">元年師兌簋</text><text class="lb" x="1964">元年師兌簋</text><text class="ln" x="2090" y="-1">108</text></g>
<g id="r63" transform="translate(0 1345.5)"><text class="t" x="1670.5">B拜稽首/敢對揚天子丕顯魯休/用乍朕皇考D肆簋B其萬年/子子孫孫永寶用</text><text class="n" x="1732">5374</text><text class="t" x="1825.5">晚期/厲王</text><text class="t" x="1941.5">三年師兌簋</text><text class="lb" x="1964">三年師兌簋</text><text class="ln" x="2090" y="-1">116</text></g>
<g id="r64" transform="translate(0 1365.8)"><text class="t" x="1670.5">B拜稽首/敢對揚天子丕顯魯休/用乍朕文祖D寶肆彝B其萬年無疆子子孫孫永寶用</text><text class="n" x="1732">2513</text><text class="t" x="1825.5">晚期/宣幽</text><text class="t" x="1941.5">大克鼎</text><text class="lb" x="1964">大克鼎</text><text class="ln" x="2090" y="-1">100</text></g>
<g id="r65" transform="translate(0 1386.1)"><text class="t" x="1670.5">B拜稽首/敢對揚天子丕顯魯休命/用乍朕烈祖DD寶簋B其萬年/子子孫永寶用</text><text class="n" x="1732">5376</text><text class="t" x="1825.5">晚期/厲王</text><text class="t" x="1941.5">宰獸簋</text><text class="lb" x="1964">宰獸簋</text><text class="ln" x="2090" y="-1">117</text></g>
<g id="r66" transform="translate(0 1406.5)"><text class="t" x="1670.5">B拜稽首對揚天子丕顯休命用乍DD尊簋B其萬年子子孫孫永寶用</text><text class="n" x="1732">5346</text><text class="t" x="1825.5">中期</text><text class="t" x="1941.5">師酉簋</text><text class="lb" x="1964">師酉簋</text><text class="ln" x="2090" y="-1">55</text></g>
<g id="r67" transform="translate(0 1426.8)"><text class="t" x="1670.5">B拜稽首/敢對揚天子丕顯休/用乍D尊簋B其萬年/子子孫孫永寶用</text><text class="n" x="1732">5364</text><text class="t" x="1825.5">晚期/夷厲</text><text class="t" x="1941.5">師穎簋</text><text class="lb" x="1964">師穎簋</text><text class="ln" x="2090" y="-1">115</text></g>
<g id="r68" transform="translate(0 1447.1)"><text class="t" x="1670.5">B拜稽首/對揚天子休/用乍朕烈考尊鼎/其萬年/子子孫孫永寶用</text><text class="n" x="1732">2463</text><text class="t" x="1825.5">晚期/厲王</text><text class="t" x="1941.5">南宮柳鼎</text><text class="lb" x="1964">南宮柳鼎</text><text class="ln" x="2090" y="-1">91</text></g>
<g id="r69" transform="translate(0 1467.4)"><text class="t" x="1670.5">B拜手稽首/敢對揚天子休/用乍朕皇考D尊簋B其萬年/子子孫孫永寶用</text><text class="n" x="1732">5381</text><text class="t" x="1825.5">晚期</text><text class="t" x="1941.5">師嫠簋</text><text class="lb" x="1964">師嫠簋</text><text class="ln" x="2090" y="-1">119</text></g>
<g id="r70" transform="translate(0 1487.7)"><text class="t" x="1670.5">B拜稽首/敢對揚天子休命/B用乍朕皇考D尊簋B其眉壽萬年無疆子子孫孫永寶用享</text><text class="n" x="1732">5342</text><text class="t" x="1825.5">晚期/宣王</text><text class="t" x="1941.5">鄀簋</text><text class="lb" x="1964">鄀簋</text><text class="ln" x="2090" y="-1">113</text></g>
<g id="r71" transform="translate(0 1508.0)"><text class="t" x="1670.5">B拜稽首/敢對揚天子丕顯魯休余用自乍寶肆簋B其萬年/子子孫孫永寶用</text><text class="n" x="1732">5302</text><text class="t" x="1825.5">晚期</text><text class="t s" x="1832">七年師兌簋蓋</text><text class="lb" x="1964">七年師兌簋蓋</text><text class="ln" x="2090" y="-1">107</text></g>
<g id="r72" transform="translate(0 1528.3)"><text class="t" x="1670.5">B拜稽首/對揚天子丕顯魯休/用乍寶盨D萬年/子子孫孫永寶用</text><text class="n" x="1732">5683</text><text class="t" x="1825.5">晚期</text><text class="t" x="1941.5">㝬盨</text><text class="lb" x="1964">㝬盨</text><text class="ln" x="2090" y="-1">124</text></g>
<g id="r73" transform="translate(0 1548.6)"><text class="t" x="1670.5">B拜手稽首敢對揚天子丕顯魯休用乍尊簋B其萬年眉壽子子孫永寶用</text><text class="n" x="1732">5398</text><text class="t" x="1825.5">中期/懿孝</text><text class="t" x="1941.5">蔡簋</text><text class="lb" x="1964">蔡簋</text><text class="ln" x="2090" y="-1">62</text></g>
<g id="r74" transform="translate(0 1568.9)"><text class="t" x="1670.5">B拜稽首對揚A休用乍朕文考D尊鼎其孫孫子子其永寶</text><text class="n" x="1732">2398</text><text class="t" x="1825.5">中期/恭王</text><text class="t" x="1941.5">守鼎</text><text class="lb" x="1964">守鼎</text><text class="ln" x="2090" y="-1">13</text></g>
<g id="r75" transform="translate(0 1589.2)"><text class="t" x="1670.5">B拜稽首揚王休用乍氒文祖D□□孫孫子子其永寶</text><text class="n" x="1732">2437</text><text class="t" x="1825.5">中期/前段</text><text class="t" x="1941.5">羿鼎</text><text class="lb" x="1964">羿鼎</text><text class="ln" x="2090" y="-1">16</text></g>
<g id="r76" transform="translate(0 1609.6)"><text class="t" x="1670.5">B對揚王休用乍朕文祖D寶簋世孫子其永寶用</text><text class="n" x="1732">5258</text><text class="t" x="1825.5">中期</text><text class="t" x="1941.5">矜簋</text><text class="lb" x="1964">矜簋</text><text class="ln" x="2090" y="-1">33</text></g>
<g id="r77" transform="translate(0 1629.9)"><text class="t" x="1670.5">B敢對揚王休用乍寶簋子子孫孫其永寶</text><text class="n" x="1732">5215</text><text class="t" x="1825.5">中期/恭王</text><text class="t" x="1941.5">卻智簋</text><text class="lb" x="1964">卻智簋</text><text class="ln" x="2090" y="-1">27</text></g>
<g id="r78" transform="translate(0 1650.2)"><text class="t" x="1670.5">用對揚王休乍寶簋子子孫孫其永寶</text><text class="n" x="1732">5217</text><text class="t" x="1825.5">中期/前段</text><text class="t" x="1941.5">晉簋</text><text class="lb" x="1964">晉簋</text><text class="ln" x="2090" y="-1">28</text></g>
<g id="r79" transform="translate(0 1670.5)"><text class="t" x="1670.5">對揚王休用乍寶簋其萬年子子孫其永寶用</text><text class="n" x="1732">5212</text><text class="t" x="1825.5">中期/恭王</text><text class="t" x="1941.5">師毛父簋</text><text class="lb" x="1964">師毛父簋</text><text class="ln" x="2090" y="-1">26</text></g>
<g id="r80" transform="translate(0 1690.8)"><text class="t" x="1670.5">敢對揚王休命用乍寶簋其萬年子子孫孫永寶用宮</text><text class="n" x="1732">30449</text><text class="t" x="1825.5">中期/後段</text><text class="t" x="1941.5">左右簋</text><text class="lb" x="1964">左右簋</text><text class="ln" x="2090" y="-1">80</text></g>
<g id="r81" transform="translate(0 1711.1)"><text class="t" x="1670.5">B用乍尊簋其萬年子子孫孫永寶用</text><text class="n" x="1732">5294</text><text class="t" x="1825.5">中期/懿孝</text><text class="t" x="1941.5">弭伯師耤簋</text><text class="lb" x="1964">弭伯師耤簋</text><text class="ln" x="2090" y="-1">41</text></g>
<g id="r82" transform="translate(0 1731.4)"><text class="t" x="1670.5">B拜稽手對揚王休同陵追俘呂兵用乍D寶簋子子孫孫寶用</text><text class="n" x="1732">5299</text><text class="t" x="1825.5">中期/孝夷</text><text class="t" x="1941.5">引簋甲</text><text class="lb" x="1964">引簋甲</text><text class="ln" x="2090" y="-1">43</text></g>
<g id="r83" transform="translate(0 1751.7)"><text class="t" x="1670.5">B拜手對揚A休/用乍大鑄鐘其子子孫孫永寶</text><text class="n" x="1732">15343</text><text class="t" x="1825.5">晚期/宣幽</text><text class="t" x="1941.5">柞鐘甲</text><text class="lb" x="1964">柞鐘甲</text><text class="ln" x="2090" y="-1">128</text></g>
<g id="r84" transform="translate(0 1772.0)"><text class="t" x="1670.5">B拜稽首對揚王休B其萬年永寶</text><text class="n" x="1732">12436</text><text class="t" x="1825.5">中晚</text><text class="t" x="1941.5">十三年癲壺甲</text><text class="lb" x="1964">十三年癲壺甲</text><text class="ln" x="2090" y="-1">71</text></g>
<g id="r85" transform="translate(0 1792.3)"><text class="t" x="1670.5">B對揚天子休用乍文考尊簋萬年寶用</text><text class="n" x="1732">5257</text><text class="t" x="1825.5">中期/前段</text><text class="t" x="1909.5">呂簋</text><text class="lb" x="1964">呂簋</text><text class="ln" x="2090" y="-1">32</text></g>
<g id="r86" transform="translate(0 1812.7)"><text class="t" x="1670.5">B敢對揚皇君顛命用乍朕烈考D肆彝B其萬年永寶用</text><text class="n" x="1732">30437</text><text class="t" x="1825.5">中期</text><text class="t" x="1941.5">習簋</text><text class="lb" x="1964">習簋</text><text class="ln" x="2090" y="-1">78</text></g>
<g id="r87" transform="translate(0 1833.0)"><text class="t" x="1670.5">對揚王休用乍旅肆彝B其萬年永寶用</text><text class="n" x="1732">5974</text><text class="t" x="1825.5">中期/懿王</text><text class="t" x="1941.5">免簠</text><text class="lb" x="1964">免簠</text><text class="ln" x="2090" y="-1">66</text></g>
<g id="r88" transform="translate(0 1853.3)"><text class="t" x="1670.5">對揚王休用乍尊彝B其萬年永寶用</text><text class="n" x="1732">11805</text><text class="t" x="1825.5">中期/懿王</text><text class="t" x="1941.5">免尊</text><text class="lb" x="1964">免尊</text><text class="ln" x="2090" y="-1">69</text></g>
<g id="r89" transform="translate(0 1873.6)"><text class="t" x="1670.5">B對天子休用乍D尊簋其萬年永寶用</text><text class="n" x="1732">5154</text><text class="t" x="1825.5">中期</text><text class="t" x="1941.5">采隻簋甲</text><text class="lb" x="1964">采隻簋甲</text><text class="ln" x="2090" y="-1">25</text></g>
<g id="r90" transform="translate(0 1893.9)"><text class="t" x="1670.5">B對揚王休用乍尊簋B其萬年永寶用</text><text class="n" x="1732">5268</text><text class="t" x="1825.5">中期/懿王</text><text class="t" x="1941.5">免簋</text><text class="lb" x="1964">免簋</text><text class="ln" x="2090" y="-1">34</text></g>
<g id="r91" transform="translate(0 1914.2)"><text class="t" x="1670.5">B敢對天子休/用乍簋永寶</text><text class="n" x="1732">5383</text><text class="t" x="1825.5">晚期/厲王</text><text class="t" x="1941.5">番生簋蓋</text><text class="lb" x="1964">番生簋蓋</text><text class="ln" x="2090" y="-1">120</text></g>
<g id="r92" transform="translate(0 1934.5)"><text class="t" x="1670.5">B稽首/敢對揚天子休/用乍D寶簋B其萬囟年/子孫永寶用乍州宮寶隹年月望日王各于大室佑佑右B</text><text class="n" x="1732">5402</text><text class="t" x="1825.5">晚期</text><text class="t" x="1941.5">師訇簋</text><text class="lb" x="1964">師訇簋</text><text class="ln" x="2090" y="-1">121</text></g>
<g id="r93" transform="translate(0 1954.8)"><text class="t" x="1670.5">B敢對揚天子丕顯休命/用乍朕皇考D尊鼎/用享孝于文神/用匄眉壽/B其萬年無疆畯臣天子霝終/子子孫孫永寶用</text><text class="n" x="1732">2484</text><text class="t" x="1825.5">晚期/宣王</text><text class="t" x="1941.5">此鼎甲</text><text class="lb" x="1964">此鼎甲</text><text class="ln" x="2090" y="-1">96</text></g>
<g id="r94" transform="translate(0 1975.1)"><text class="t" x="1670.5">B拜稽首/敢對揚天子丕顯魯休/用乍朕皇考D皇母D寶尊鼎/用追孝祈匄康虔屯右通彔永命/B其萬年眉壽畯臣天子霝終/子子孫孫寶用</text><text class="n" x="1732">2492</text><text class="t" x="1825.5">晚期/宣王</text><text class="t" x="1941.5">頌鼎</text><text class="lb" x="1964">頌鼎</text><text class="ln" x="2090" y="-1">98</text></g>
<g id="r95" transform="translate(0 1995.4)"><text class="t" x="1670.5">B敢對揚天子丕顯魯休/用乍尊鼎/用享于朕烈考/用割眉壽萬年/子孫永寶用</text><text class="n" x="1732">2478</text><text class="t" x="1825.5">晚期/宣王</text><text class="t" x="1941.5">無叀鼎</text><text class="lb" x="1964">無叀鼎</text><text class="ln" x="2090" y="-1">92</text></g>
<g id="r96" transform="translate(0 2015.8)"><text class="t" x="1670.5">B稽首受命敢對揚天子丕顯休/用乍朕皇考D鼎/用享孝于皇祖皇考/用匄康勵永令霝終B其眉壽萬年/子子孫孫永寶用</text><text class="n" x="1732">XXXXX</text><text class="t" x="1825.5">XX</text><text class="t" x="1941.5">閒碩鼎</text><text class="lb" x="1964">閒碩鼎</text><text class="ln" x="2090" y="-1">130</text></g>
<g id="r97" transform="translate(0 2036.1)"><text class="t" x="1670.5">B敢對揚天子休命/用乍朕皇考D尊鼎/用祈匄眉壽綽綰永命霝終/子子孫孫永寶用</text><text class="n" x="1732">2490</text><text class="t" x="1825.5">晚期/宣王</text><text class="t" x="1941.5">善夫山鼎</text><text class="lb" x="1964">善夫山鼎</text><text class="ln" x="2090" y="-1">97</text></g>
<g id="r98" transform="translate(0 2056.4)"><text class="t" x="1670.5">B拜稽首對揚天子丕杯魯休用追孝于烈中用乍尊鼎用匄眉壽黃耇吉康B其萬年子子孫永寶用</text><text class="n" x="1732">2476</text><text class="t" x="1825.5">中期/恭王</text><text class="t" x="1941.5">師奎父鼎</text><text class="lb" x="1964">師奎父鼎</text><text class="ln" x="2090" y="-1">20</text></g>
<g id="r99" transform="translate(0 2076.7)"><text class="t" x="1670.5">B拜稽首對揚天子丕顯休命用乍朕文考寶尊簋余其萬年寶用享于朕文考D用匄賁屯盉亙命霝終</text><text class="n" x="1732">5328</text><text class="t" x="1825.5">中期/孝夷</text><text class="t" x="1941.5">師道簋</text><text class="lb" x="1964">師道簋</text><text class="ln" x="2090" y="-1">51</text></g>
<g id="r100" transform="translate(0 2097.0)"><text class="t" x="1670.5">B拜稽首敢對揚天子休用乍寶鼎用饗朋友</text><text class="n" x="1732">2433</text><text class="t" x="1825.5">中期/恭王</text><text class="t" x="1941.5">七年趞曹鼎</text><text class="lb" x="1964">七年趞曹鼎</text><text class="ln" x="2090" y="-1">15</text></g>
<g id="r101" transform="translate(0 2117.3)"><text class="t" x="1670.5">B稽首對揚王休用乍文考D尊簋</text><text class="n" x="1732">5230</text><text class="t" x="1825.5">中期</text><text class="t" x="1941.5">召簋</text><text class="lb" x="1964">召簋</text><text class="ln" x="2090" y="-1">30</text></g>
<g id="r102" transform="translate(0 2137.6)"><text class="t" x="1670.5">B拜稽首揚王休對B蔑曆用乍寶尊彝世孫子毋敢墜永寶*</text><text class="n" x="1732">10659</text><text class="t" x="1825.5">中期/懿王</text><text class="t" x="1941.5">趩觶</text><text class="lb" x="1964">趩觶</text><text class="ln" x="2090" y="-1">67</text></g>
<g id="r103" transform="translate(0 2157.9)"><text class="t" x="1670.5">B拜稽首受穆王休命對揚穆王休命用乍D寶肆彝孫孫子子其萬年寶用茲穆王休命</text><text class="n" x="1732">30456</text><text class="t" x="1825.5">中期/穆恭</text><text class="t" x="1941.5">艮簋</text><text class="lb" x="1964">艮簋</text><text class="ln" x="2090" y="-1">84</text></g>
<g id="r104" transform="translate(0 2178.2)"><text class="t" x="1670.5">B拜稽首對揚王休用乍文考D寶尊盨其日夙夕用氒馨香敦祀于氒百神孫孫子子其萬年永寶用茲王休其日引勿替</text><text class="n" x="1732">5676</text><text class="t" x="1825.5">中期/穆恭</text><text class="t" x="1941.5">獄盨</text><text class="lb" x="1964">獄盨</text><text class="ln" x="2090" y="-1">65</text></g>
<g id="r105" transform="translate(0 2198.5)"><text class="t" x="1670.5">B拜稽首對揚王休用乍朕文祖D盤盉孫子其萬年永寶用茲王休其日引勿替</text><text class="n" x="1732">14531</text><text class="t" x="1825.5">中期/穆恭</text><text class="t" x="1941.5">獄盤</text><text class="lb" x="1964">獄盤</text><text class="ln" x="2090" y="-1">75</text></g>
<g id="r106" transform="translate(0 2218.9)"><text class="t" x="1670.5">B拜稽首敢對揚王休用乍朕文祖D寶尊彝B曰天子丕叚丕基萬年保我萬邦B敢拜稽首曰烈朕身更朕先寶事</text><text class="n" x="1732">11814</text><text class="t" x="1825.5">中期/恭王</text><text class="t" x="1941.5">盠尊</text><text class="lb" x="1964">盠尊</text><text class="ln" x="2090" y="-1">70</text></g>
<g id="r107" transform="translate(0 2239.2)"><text class="t" x="1670.5">B乍寶尊彝</text><text class="n" x="1732">2045</text><text class="t" x="1825.5">早期/康王</text><text class="t" x="1941.5">雍伯鼎</text><text class="lb" x="1964">雍伯鼎</text><text class="ln" x="2090" y="-1">1</text></g>
<g id="r108" transform="translate(0 2259.5)"><text class="t" x="1670.5">用乍寶尊彝</text><text class="n" x="1732">13881</text><text class="t" x="1825.5">早期/成王</text><text class="t" x="1941.5">克罍</text><text class="lb" x="1964">克罍</text><text class="ln" x="2090" y="-1">10</text></g>
<g id="r109" transform="translate(0 2279.8)"><text class="t" x="1670.5">乍氒考尊彝*</text><text class="n" x="1732">5020</text><text class="t" x="1825.5">早期/成王</text><text class="t" x="1941.5">沬司土迭簋</text><text class="lb" x="1964">沬司土迭簋</text><text class="ln" x="2090" y="-1">6</text></g>
<g id="r110" transform="translate(0 2300.1)"><text class="t" x="1670.5">拜稽首魯天子氒瀕福克奔走上下帝無終命于有周追孝對不敢惰卲朕福盟朕臣天子用典王命乍D彝</text><text class="n" x="1732">5274</text><text class="t" x="1825.5">早期/康王</text><text class="t" x="1941.5">邢侯簋</text><text class="lb" x="1964">邢侯簋</text><text class="ln" x="2090" y="-1">8</text></g>
<g id="r111" transform="translate(0 2320.4)"><text class="t" x="1670.5">B拜稽首休白大師肩任臣皇辟天子亦弗忘公上父㝬德B蔑曆白大師不自乍小子夙夕尃由先祖烈德用臣皇辟白亦克款由先祖蠱孫子一任皇辟懿德用保王身B敢釐王卑天子萬年範圍白大師武臣保天子用氒烈祖孚德B敢對王休用妥乍公上父尊于朕考D□宗</text><text class="n" x="1732">2495</text><text class="t" x="1825.5">中期/恭王</text><text class="t" x="1941.5">師䚄鼎</text><text class="lb" x="1964">師䚄鼎</text><text class="ln" x="2090" y="-1">23</text></g>
<g id="r112" transform="translate(0 2340.7)"><text class="t" x="1670.5">殘缺[跳過]</text><text class="n" x="1732">15190</text><text class="t" x="1825.5">晚期</text><text class="t" x="1941.5">逆鐘</text><text class="lb" x="1964">逆鐘</text><text class="ln" x="2090" y="-1">127</text></g>
<g id="r113" transform="translate(0 2361.0)"><text class="t" x="1670.5">B對王休命肆父D尊*</text><text class="n" x="1732">2382</text><text class="t" x="1825.5">早期/昭王</text><text class="t" x="1941.5">中鼎</text><text class="lb" x="1964">中鼎</text><text class="ln" x="2090" y="-1">3</text></g>
<g id="r114" transform="translate(0 2381.3)"><text class="t" x="1670.5">B揚王休乍D尊彝</text><text class="n" x="1732">5373</text><text class="t" x="1825.5">早期/康王</text><text class="t" x="1941.5">宜侯夨簋</text><text class="lb" x="1964">宜侯夨簋</text><text class="ln" x="2090" y="-1">9</text></g>
<g id="r115" transform="translate(0 2401.6)"><text class="t" x="1670.5">用茲簋設A休用乍祖D尊彝</text><text class="n" x="1732">5136</text><text class="t" x="1825.5">早期/成王</text><text class="t" x="1941.5">㺃簋</text><text class="lb" x="1964">㺃簋</text><text class="ln" x="2090" y="-1">7</text></g>
<g id="r116" transform="translate(0 2422.0)"><text class="t" x="1670.5">B對揚王休用作寶鼎</text><text class="n" x="1732">2367</text><text class="t" x="1825.5">中期/前段</text><text class="t" x="1941.5">雝鼎</text><text class="lb" x="1964">雝鼎</text><text class="ln" x="2090" y="-1">12</text></g>
<g id="r117" transform="translate(0 2442.3)"><text class="t" x="1670.5">對揚A休用乍寶彝</text><text class="n" x="1732">11792</text><text class="t" x="1825.5">中期</text><text class="t" x="1941.5">次尊</text><text class="lb" x="1964">次尊</text><text class="ln" x="2090" y="-1">68</text></g>
<g id="r118" transform="translate(0 2462.6)"><text class="t" x="1670.5">B揚天子休用乍父D寶尊彝</text><text class="n" x="1732">2461</text><text class="t" x="1825.5">早期/昭王</text><text class="t" x="1941.5">靜鼎</text><text class="lb" x="1964">靜鼎</text><text class="ln" x="2090" y="-1">4</text></g>
<g id="r119" transform="translate(0 2482.9)"><text class="t" x="1670.5">B用對王休用乍祖D寶鼎*</text><text class="n" x="1732">2514</text><text class="t" x="1825.5">早期/康王</text><text class="t" x="1941.5">大盂鼎</text><text class="lb" x="1964">大盂鼎</text><text class="ln" x="2090" y="-1">5</text></g>
<g id="r120" transform="translate(0 2503.2)"><text class="t" x="1670.5">B對揚君命于彝用乍文考D肆彝永余寶</text><text class="n" x="1732">2260</text><text class="t" x="1825.5">早期</text><text class="t" x="1941.5">羌鼎</text><text class="lb" x="1964">羌鼎</text><text class="ln" x="2090" y="-1">2</text></g>
<g id="r121" transform="translate(0 2523.5)"><text class="t" x="1670.5">B敢對天子丕顯魯休揚用乍朕皇考D肆彝皇考其嚴才上廣才下穆穆秉明德豐豐㲋㲋降余康虔屯右通彔永命眉壽綽綰畯臣天子B萬年無疆子子孫孫永寶用享</text><text class="n" x="1732">2503</text><text class="t" x="1825.5">晚期/宣王</text><text class="t" x="1941.5">卌三年逑鼎甲</text><text class="lb" x="1964">卌三年逑鼎甲</text><text class="ln" x="2090" y="-1">99</text></g>
<g id="r122" transform="translate(0 2543.8)"><text class="t" x="1670.5">B敢對天子丕顯魯休揚用乍D寶尊盤用追享孝于前文人前文人嚴才上廣才下數數㲋㲋降逑魯多福眉壽綽綰受余康虔屯右通彔永命霝終B畯臣天子子子孫孫永寶用享</text><text class="n" x="1732">14543</text><text class="t" x="1825.5">晚期/宣王</text><text class="t" x="1941.5">逑盤</text><text class="lb" x="1964">逑盤</text><text class="ln" x="2090" y="-1">126</text></g>
<g id="r123" transform="translate(0 2564.1)"><text class="t" x="1670.5">B乍朕皇考D肆彝尊鼎/B用享孝于朕皇考D/用易康勵魯休屯右眉壽永命霝終/其萬年無疆子子孫孫永寶用享</text><text class="n" x="1732">2447</text><text class="t" x="1825.5">晚期/宣幽</text><text class="t" x="1941.5">微䜌鼎</text><text class="lb" x="1964">微䜌鼎</text><text class="ln" x="2090" y="-1">90</text></g>
<g id="r124" transform="translate(0 2584.4)"><text class="t" x="1670.5">B敢拜稽首對揚皇天子丕杯休用乍宗室寶尊唯用妥福效前文人秉德共屯余其用各我宗子雩百生余用匄屯魯雩萬年其永寶用之</text><text class="n" x="1732">2487</text><text class="t" x="1825.5">中晚/夷厲</text><text class="t" x="1941.5">善鼎</text><text class="lb" x="1964">善鼎</text><text class="ln" x="2090" y="-1">22</text></g>
<g id="r125" transform="translate(0 2604.7)"><text class="t" x="1670.5">B敢拜稽首對揚天子丕杯魯休B曰丕顯朕烈祖考粦明克事先王肆天子弗望氒孫子付氒尚官天子其萬年申茲命B用乍文考D尊簋子孫其永寶用夙夕享于宗</text><text class="n" x="1732">5399</text><text class="t" x="1825.5">中期/恭王</text><text class="t" x="1941.5">虎簋蓋甲</text><text class="lb" x="1964">虎簋蓋甲</text><text class="ln" x="2090" y="-1">63</text></g>
<g id="r126" transform="translate(0 2625.1)"><text class="t" x="1670.5">B拜稽首對揚王休B用乍朕文考D寶肆彝其日夙夕用氒馨香敦祀于氒百神亡不則芬芳馨香則登于上下用匄百福萬年欲茲百生亡不㝬魯孫孫子子其萬年永寶用茲王休其日引勿替世毋望</text><text class="n" x="1732">5368</text><text class="t" x="1825.5">中期/穆恭</text><text class="t" x="1941.5">衛簋甲（庚寅）</text><text class="lb" x="1964">衛簋甲（庚寅）</text><text class="ln" x="2090" y="-1">58</text></g>
<g id="r127" transform="translate(0 2645.4)"><text class="t" x="1670.5">B拜稽首天子其萬年眉壽黃耇畯才立B其蔑曆日易魯休B敢揚天子丕顯休/用乍寶其萬年永保臣天子</text><text class="n" x="1732">5330</text><text class="t" x="1825.5">晚期/厲王</text><text class="t" x="1941.5">師艅簋蓋</text><text class="lb" x="1964">師艅簋蓋</text><text class="ln" x="2090" y="-1">109</text></g>
<g id="r128" transform="translate(0 2665.7)"><text class="t" x="1670.5">用乍寶鼎其萬年用事宗</text><text class="n" x="1732">30214</text><text class="t" x="1825.5">早期/昭穆</text><text class="t" x="1941.5">姒鼎</text><text class="lb" x="1964">姒鼎</text><text class="ln" x="2090" y="-1">11</text></g>
<g id="r129" transform="translate(0 2686.0)"><text class="t" x="1670.5">用乍寶鼎其子孫其永寶用</text><text class="n" x="1732">30222</text><text class="t" x="1825.5">中期</text><text class="t" x="1941.5">衍鼎</text><text class="lb" x="1964">衍鼎</text><text class="ln" x="2090" y="-1">77</text></g>
<g id="r130" transform="translate(0 2706.3)"><text class="t" x="1670.5">B用茲金乍朕文考D肆牛鼎B其萬年用祀子子孫孫其永寶</text><text class="n" x="1732">2515</text><text class="t" x="1825.5">中期/懿王</text><text class="t" x="1941.5">晉鼎</text><text class="lb" x="1964">晉鼎</text><text class="ln" x="2090" y="-1">24</text></g>
</g>
</svg>
